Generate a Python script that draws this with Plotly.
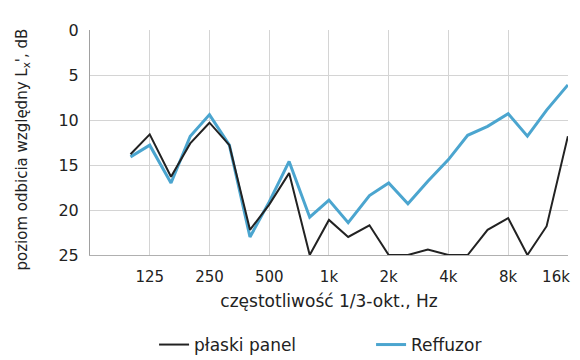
import plotly.graph_objects as go

freqs = [100, 125, 160, 200, 250, 315, 400, 500, 630, 800, 1000, 1250, 1600,
         2000, 2500, 3150, 4000, 5000, 6300, 8000, 10000, 12500, 16000]
plaski_panel = [13.8, 11.6, 16.3, 12.6, 10.3, 12.8, 22.2, 19.4, 15.9, 25.0, 21.1, 23.0, 21.7,
                25.0, 25.0, 24.4, 25.0, 25.0, 22.2, 20.9, 25.0, 21.8, 11.8]
reffuzor = [14.1, 12.8, 17.0, 11.8, 9.4, 12.8, 23.0, 19.1, 14.6, 20.8, 18.9, 21.4, 18.4,
            17.0, 19.3, 16.8, 14.4, 11.7, 10.7, 9.3, 11.8, 8.9, 6.1]
tick_vals = [125, 250, 500, 1000, 2000, 4000, 8000, 16000]
tick_text = ["125", "250", "500", "1k", "2k", "4k", "8k", "16k\u00a0\u00a0\u00a0\u00a0\u00a0"]
y_ticks = [0, 5, 10, 15, 20, 25]

fig = go.Figure()
fig.add_trace(go.Scatter(x=freqs, y=reffuzor, mode="lines", name="Reffuzor",
                         line=dict(color="#4ba5cf", width=3)))
fig.add_trace(go.Scatter(x=freqs, y=plaski_panel, mode="lines", name="płaski panel",
                         line=dict(color="#222222", width=2)))

font = "DejaVu Sans"
fig.update_layout(
    width=580, height=352,
    margin=dict(l=82, r=20, t=22, b=105, autoexpand=False),
    paper_bgcolor="white", plot_bgcolor="white",
    font=dict(family=font, color="#222222", size=15),
    legend=dict(orientation="h", x=0.588, xanchor="center", y=-0.4, yanchor="middle",
                traceorder="reversed", font=dict(size=17),
                entrywidth=172, entrywidthmode="pixels"),
    xaxis=dict(type="log", range=[1.7959, 4.2046], tickvals=tick_vals, ticktext=tick_text,
               showgrid=True, gridcolor="#d4d4d4", gridwidth=1, zeroline=False,
               showline=True, linecolor="#b0b0b0", mirror=False, ticks="",
               tickfont=dict(size=15), ticklabelstandoff=8, automargin=False,
               ticklabeloverflow="allow",
               title=dict(text="częstotliwość 1/3-okt., Hz", font=dict(size=17), standoff=10)),
    yaxis=dict(range=[25, 0], tickvals=y_ticks, showgrid=True, gridcolor="#d4d4d4",
               zeroline=False, showline=True, linecolor="#a0a0a0", ticks="",
               tickfont=dict(size=16), ticklabelstandoff=7, automargin=False),
    annotations=[dict(text="poziom odbicia względny L<sub>x</sub>', dB", textangle=-90,
                      xref="paper", yref="paper", x=0, y=0.5, xanchor="center",
                      yanchor="middle", xshift=-68, yshift=-7, showarrow=False,
                      font=dict(size=15))],
)
fig.write_html("out.html")
